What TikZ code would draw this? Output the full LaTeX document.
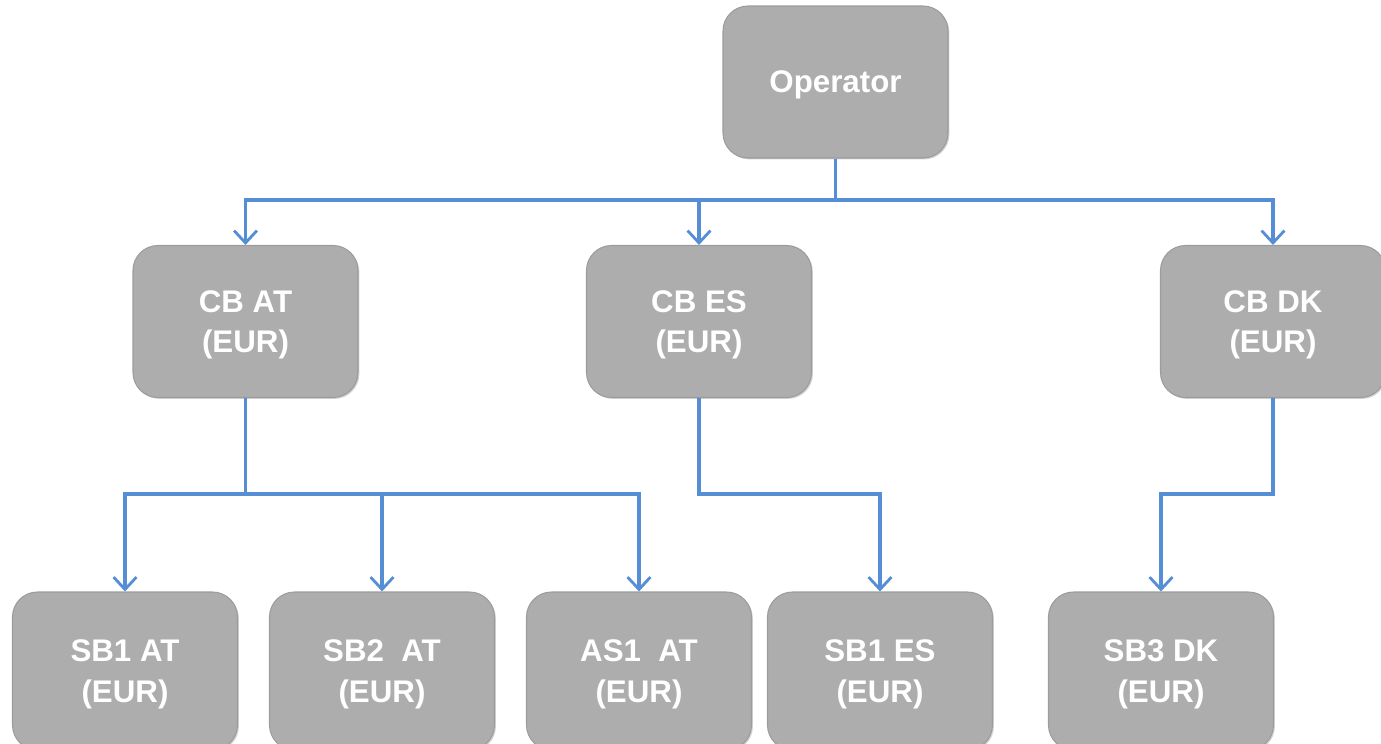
\documentclass[tikz,border=0pt]{standalone}
\usepackage{fontspec}
\setmainfont{Liberation Sans}
\usetikzlibrary{arrows.meta,shadows}
\definecolor{boxgray}{HTML}{ADADAD}
\definecolor{boxedge}{HTML}{9C9C9C}
\definecolor{linkblue}{HTML}{558ED5}
\begin{document}
\begin{tikzpicture}[
    unit/.style={draw=boxedge, line width=0.6pt, fill=boxgray, rounded corners=0.5cm,
      minimum width=4.5cm, minimum height=3.04cm, align=center, text=white,
      text depth=-1.2pt,
      font=\fontsize{17.8}{23}\selectfont\bfseries,
      drop shadow={shadow xshift=0.8pt, shadow yshift=-0.8pt, opacity=0.35}},
    leaf/.style={unit, minimum height=3.16cm},
    link/.style={draw=linkblue, line width=2pt,
      -{Straight Barb[length=7pt, width=13pt, line width=1.6pt]}}
  ]
  \useasboundingbox (0,0) rectangle (27.62,-14.86);

  % Operator
  \node[unit] (op) at (16.71,-1.64) {Operator};

  % Central banks
  \node[unit] (cbat) at (4.91,-6.43) {CB AT\\(EUR)};
  \node[unit] (cbes) at (13.98,-6.43) {CB ES\\(EUR)};
  \node[unit] (cbdk) at (25.46,-6.43) {CB DK\\(EUR)};

  % Settlement banks and ancillary system
  \node[leaf] (sbat) at (2.50,-13.42) {SB1 AT\\(EUR)};
  \node[leaf] (sbbat) at (7.64,-13.42) {SB2\ \ AT\\(EUR)};
  \node[leaf] (asat) at (12.78,-13.42) {AS1\ \ AT\\(EUR)};
  \node[leaf] (sbes) at (17.60,-13.42) {SB1 ES\\(EUR)};
  \node[leaf] (sbdk) at (23.22,-13.42) {SB3 DK\\(EUR)};

  % Bus points
  \coordinate (busop) at (16.71,-4.00);
  \coordinate (busat) at (4.91,-9.88);
  \coordinate (buses) at (13.98,-9.88);
  \coordinate (busdk) at (25.46,-9.88);

  % Arrows
  \draw[link] (op.south) -- (busop) -| (cbat.north);
  \draw[link] (busop) -| (cbes.north);
  \draw[link] (busop) -| (cbdk.north);

  \draw[link] (cbat.south) -- (busat) -| (sbat.north);
  \draw[link] (busat) -| (sbbat.north);
  \draw[link] (busat) -| (asat.north);
  \draw[link] (cbes.south) -- (buses) -| (sbes.north);
  \draw[link] (cbdk.south) -- (busdk) -| (sbdk.north);

\end{tikzpicture}
\end{document}
